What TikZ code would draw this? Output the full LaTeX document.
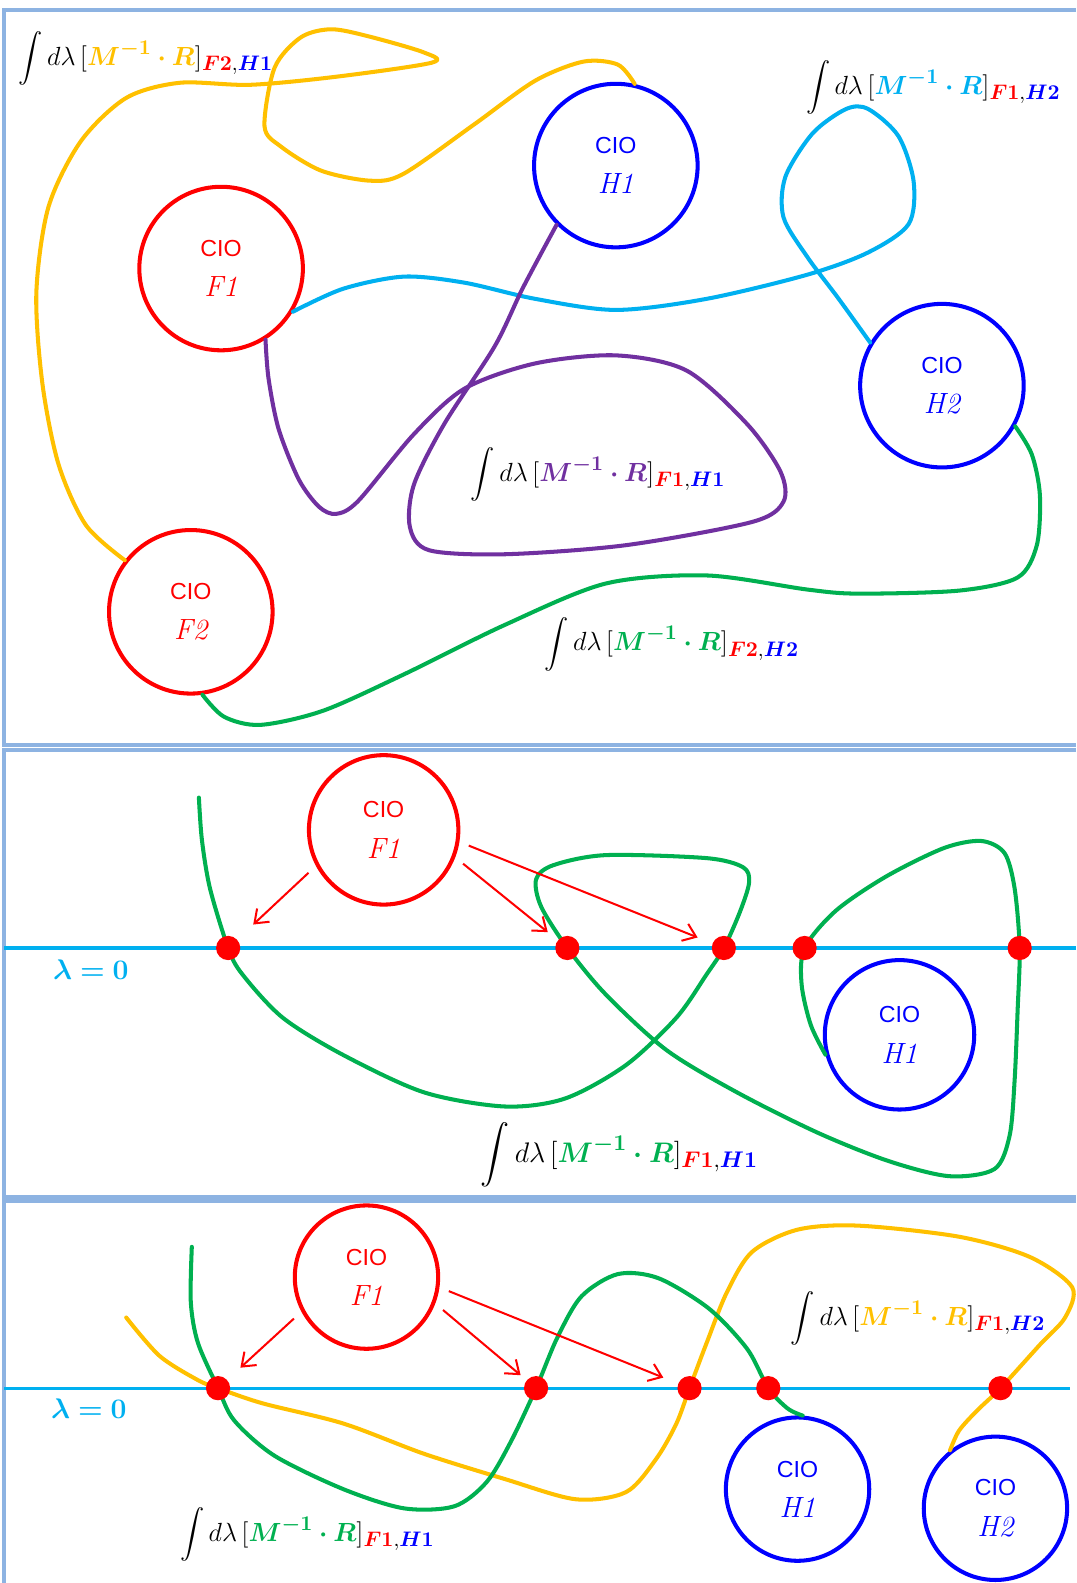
\RequirePackage{fix-cm}
\documentclass[tikz,border=0pt]{standalone}
\usepackage{amsmath}
\usepackage{bm}
\usepackage{fontspec}
\setsansfont{Liberation Sans}
\usetikzlibrary{arrows.meta}
\DeclareMathSizes{13}{13}{10.4}{8.3}
\DeclareMathSizes{14}{14}{11.2}{9}

\definecolor{cioRed}{HTML}{FF0000}
\definecolor{cioBlue}{HTML}{0000FF}
\definecolor{gold}{HTML}{FFC000}
\definecolor{sky}{HTML}{00B0F0}
\definecolor{grape}{HTML}{7030A0}
\definecolor{leaf}{HTML}{00B050}
\definecolor{frameblue}{HTML}{8DB3E2}

\newcommand{\lamint}[3]{$\displaystyle\int d\lambda\,[\textcolor{#1}{\bm{M^{-1}\cdot R}}]_{\textcolor{cioRed}{\bm{#2}},\textcolor{cioBlue}{\bm{#3}}}$}
\newcommand{\ciotext}[1]{{\sffamily\upshape\fontsize{11.5}{20}\selectfont CIO}\\#1}

\tikzset{
  cio/.style={circle, line width=2pt, inner sep=0pt, align=center,
    font=\itshape\fontsize{14.5}{20}\selectfont, minimum size=81pt},
  fcio/.style={cio, draw=cioRed, text=cioRed},
  hcio/.style={cio, draw=cioBlue, text=cioBlue},
  curve/.style={line width=2pt, line cap=round, line join=round},
  hit/.style={->, cioRed, line width=1pt, shorten <=5pt},
  hitdot/.style={circle, fill=cioRed, inner sep=0pt, minimum size=12pt},
  lam/.style={sky, line width=1.5pt},
  frame/.style={frameblue, line width=2pt},
  lbl/.style={inner sep=0pt, anchor=west, font=\fontsize{13}{15}\selectfont},
  zero/.style={sky, font=\fontsize{14}{16}\selectfont}
}

\begin{document}
\begin{tikzpicture}[x=0.5pt, y=-0.5pt, >={Straight Barb[length=6pt,width=9pt]}]
  \useasboundingbox (0,0) rectangle (1066,1568);

  % panel frames
  \draw[frame] (1066,10) -- (4,10) -- (4,738) -- (1066,738);
  \draw[frame] (1066,743) -- (4,743) -- (4,1186) -- (1066,1186);
  \draw[frame] (1066,1190) -- (4,1190) -- (4,1568);

  % ---- panel 1: four CIOs ----
  \node[fcio] (f1) at (219,266) {\ciotext{F1}};
  \node[hcio] (h1) at (610,164) {\ciotext{H1}};
  \node[hcio] (h2) at (933,382) {\ciotext{H2}};
  \node[fcio] (f2) at (189,606) {\ciotext{F2}};

  \draw[curve, gold] plot[smooth] coordinates {(f2.142) (85,520) (58,460) (42,380) (36,290) (48,205) (80,140) (125,97) (178,82) (248,84) (333,76) (428,62) (420,52) (365,36) (328,29) (298,37) (272,67) (262,125) (278,145) (318,169) (367,179) (400,172) (470,123) (530,80) (578,61) (612,64) (h1.77)};
  \draw[curve, sky] plot[smooth] coordinates {(f1.-31) (340,286) (400,274) (460,280) (530,296) (610,307) (700,296) (800,272) (860,250) (900,222) (905,180) (890,135) (860,108) (838,108) (805,132) (778,175) (776,215) (800,255) (830,295) (h2.149)};
  \draw[curve, grape] plot[smooth] coordinates {(f1.-58) (266,375) (276,425) (296,475) (316,502) (333,509) (355,496) (410,430) (460,385) (530,360) (610,352) (680,367) (740,420) (773,467) (776,497) (745,517) (620,540) (500,549) (425,545) (406,522) (410,480) (440,420) (490,343) (518,285) (h1.225)};
  \draw[curve, leaf] plot[smooth] coordinates {(f2.-82) (222,710) (258,718) (320,704) (400,668) (500,619) (600,578) (700,570) (800,584) (850,588) (950,585) (1008,572) (1027,540) (1030,490) (1022,450) (h2.-29)};

  \node[lbl] (i21) at (18,58) {\lamint{gold}{F2}{H1}};
  \node[lbl] (i12) at (798,87) {\lamint{sky}{F1}{H2}};
  \node[lbl] (i11) at (466,470) {\lamint{grape}{F1}{H1}};
  \node[lbl] (i22) at (539,638) {\lamint{leaf}{F2}{H2}};

  % ---- panel 2: lambda = 0 crossings ----
  \draw[lam] (4,939) -- (1066,939);
  \node[zero] (z2) at (90,960) {$\bm{\lambda = 0}$};

  \node[fcio, minimum size=74pt] (g1) at (380,822) {\ciotext{F1}};
  \node[hcio, minimum size=74pt] (k1) at (891,1025) {\ciotext{H1}};

  \draw[curve, leaf] plot[smooth] coordinates {(197,790) (200,832) (208,880) (226,939) (240,965) (280,1008) (340,1045) (420,1082) (500,1096) (560,1088) (620,1055) (670,1008) (700,965) (717,939) (733,903) (742,874) (736,859) (700,850) (600,847) (548,857) (531,871) (536,898) (562,939) (600,985) (660,1040) (730,1082) (810,1122) (880,1150) (940,1165) (985,1158) (1000,1125) (1005,1070) (1008,1000) (1010,939) (1005,880) (995,845) (972,833) (935,840) (878,868) (828,902) (797,939) (794,975) (803,1015) (k1.195)};

  \foreach \x/\n in {226/a, 562/b, 717/c, 797/d, 1010/e}
    \node[hitdot] (q\n) at (\x,939) {};

  \draw[hit, shorten >=17pt] (g1.208) -- (qa.center);
  \draw[hit, shorten >=12.5pt] (g1.-21) -- (qb.center);
  \draw[hit, shorten >=14pt] (g1.-9) -- (qc.center);

  \node[lbl, font=\fontsize{14}{16}\selectfont] (j11) at (476,1144) {\lamint{leaf}{F1}{H1}};

  % ---- panel 3: lambda = 0 crossings ----
  \draw[lam] (4,1375) -- (1060,1375);
  \node[zero] (z3) at (88,1395) {$\bm{\lambda = 0}$};

  \node[fcio, minimum size=71pt] (m1) at (363,1265) {\ciotext{F1}};
  \node[hcio, minimum size=71pt] (n1) at (790,1475) {\ciotext{H1}};
  \node[hcio, minimum size=71pt] (n2) at (986,1494) {\ciotext{H2}};

  \draw[curve, gold] plot[smooth] coordinates {(125,1305) (158,1343) (196,1367) (216,1375) (260,1390) (340,1410) (420,1440) (500,1465) (570,1485) (620,1478) (650,1445) (670,1410) (683,1375) (700,1330) (720,1280) (745,1240) (790,1218) (850,1214) (950,1225) (1020,1245) (1062,1275) (1055,1305) (1030,1332) (991,1375) (968,1397) (950,1417) (n2.128)};
  \draw[curve, leaf] plot[smooth] coordinates {(190,1235) (189,1290) (196,1330) (216,1375) (232,1407) (272,1442) (340,1475) (400,1494) (450,1492) (482,1468) (506,1428) (531,1375) (552,1325) (576,1284) (612,1262) (652,1266) (702,1296) (740,1336) (761,1375) (780,1395) (n1.86)};

  \foreach \x/\n in {216/a, 531/b, 683/c, 761/d, 991/e}
    \node[hitdot] (r\n) at (\x,1375) {};

  \draw[hit, shorten >=15pt] (m1.208) -- (ra.center);
  \draw[hit, shorten >=10pt] (m1.-21) -- (rb.center);
  \draw[hit, shorten >=14pt] (m1.-8) -- (rc.center);

  \node[lbl] (j12) at (783,1306) {\lamint{gold}{F1}{H2}};
  \node[lbl] (j13) at (178,1520) {\lamint{leaf}{F1}{H1}};
\end{tikzpicture}
\end{document}
